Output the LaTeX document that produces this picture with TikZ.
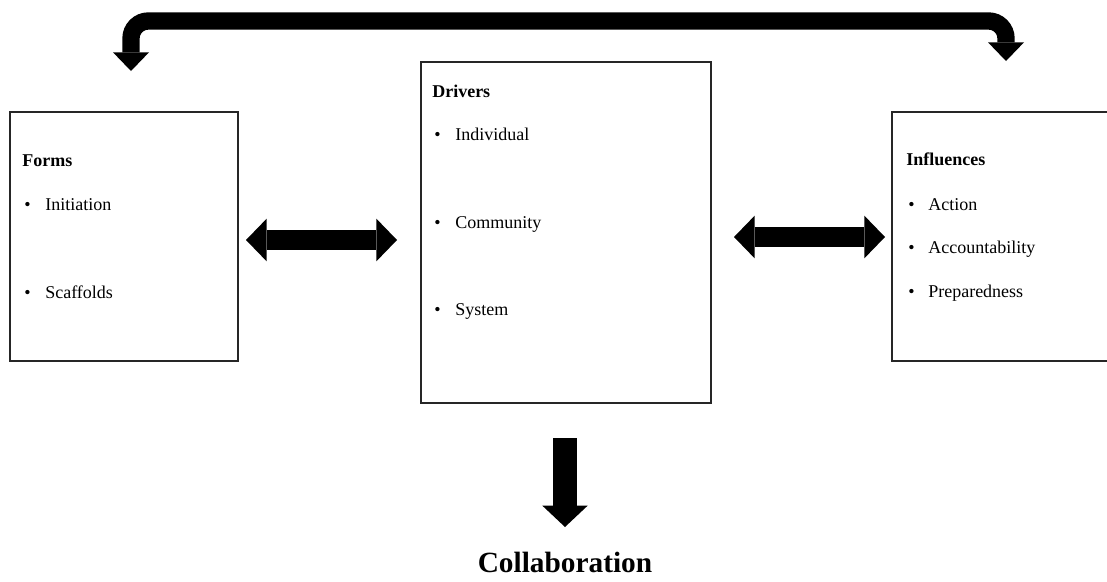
\documentclass[tikz,border=0pt]{standalone}
\usepackage{fontspec}
\setmainfont{Liberation Serif}
\usetikzlibrary{arrows.meta,fit}
\begin{document}
\begin{tikzpicture}[x=0.75pt,y=-0.75pt,
  panel/.style={draw=black!85, line width=0.8pt, inner sep=0pt},
  txt/.style={anchor=base west, inner sep=0pt, font=\fontsize{13.5}{16}\selectfont},
  head/.style={txt, font=\fontsize{13.5}{16}\selectfont\bfseries},
  dblarrow/.style={line width=15.5pt,
    {Triangle[length=15.5pt,width=32pt,line width=0pt]}-{Triangle[length=15.5pt,width=32pt,line width=0pt]}},
  loop/.style={line width=13pt, rounded corners=13pt,
    {Triangle[length=14pt,width=27pt,line width=0pt]}-{Triangle[length=14pt,width=27pt,line width=0pt]}},
  down/.style={line width=17.5pt, -{Triangle[length=16pt,width=34pt,line width=0pt]}}]
\clip (0,0) rectangle (1107,582);

% the three panels
\node[panel, fit={(10,112) (238,361)}] (forms) {};
\node[panel, fit={(421,62) (711,403)}] (drivers) {};
\node[panel, fit={(892,112) (1115,361)}] (influences) {};

% Forms
\node[head] (formsT) at (22,166) {Forms};
\node[txt] (f1b) at (24,210) {•};
\node[txt] (f1) at (45,210) {Initiation};
\node[txt] (f2b) at (24,298) {•};
\node[txt] (f2) at (45,298) {Scaffolds};

% Drivers
\node[head] (driversT) at (432,97) {Drivers};
\node[txt] (d1b) at (434,140) {•};
\node[txt] (d1) at (455,140) {Individual};
\node[txt] (d2b) at (434,228) {•};
\node[txt] (d2) at (455,228) {Community};
\node[txt] (d3b) at (434,315) {•};
\node[txt] (d3) at (455,315) {System};

% Influences
\node[head] (inflT) at (906,165) {Influences};
\node[txt] (i1b) at (908,210) {•};
\node[txt] (i1) at (928,210) {Action};
\node[txt] (i2b) at (908,253) {•};
\node[txt] (i2) at (928,253) {Accountability};
\node[txt] (i3b) at (908,297) {•};
\node[txt] (i3) at (928,297) {Preparedness};

% outcome
\node[anchor=base, inner sep=0pt, font=\fontsize{22}{26}\selectfont\bfseries] (collab) at (565,572) {Collaboration};

% connector end points
\coordinate (lA) at (246,240);
\coordinate (lB) at (397,240);
\coordinate (rA) at (734,237);
\coordinate (rB) at (885,237);
\coordinate (topL) at (131,71);
\coordinate (topM) at (570,21);
\coordinate (topR) at (1006,61);
\coordinate (dTop) at (565,438);
\coordinate (dTip) at (565,527);

% block arrows
\draw[dblarrow] (lA) -- (lB);
\draw[dblarrow] (rA) -- (rB);
\draw[loop] (topL) |- (topM) -| (topR);
\draw[down] (dTop) -- (dTip);
\end{tikzpicture}
\end{document}
